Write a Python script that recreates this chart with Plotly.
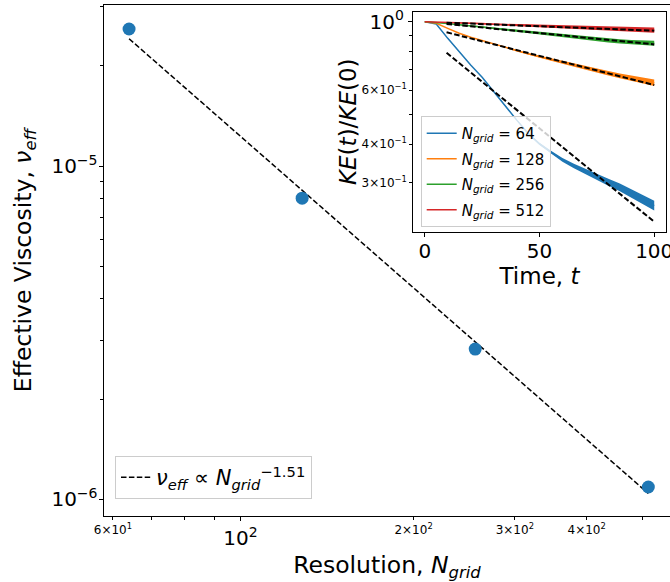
import numpy as np
import plotly.graph_objects as go

# ---------------- data: main panel ----------------
N_grid = [64, 128, 256, 512]
nu_eff = [2.575e-5, 8.01e-6, 2.826e-6, 1.09e-6]
fit_coef = 0.012853
fit_exp = -1.51

# ---------------- data: inset (KE decay) ----------------
time = [0, 5, 10, 15, 20, 25, 30, 35, 40, 45, 50, 55, 60, 65, 70, 75, 80, 85, 90, 95, 100]
ke_64 = [1.0, 0.983, 0.883, 0.799, 0.723, 0.660, 0.593, 0.534, 0.480, 0.434, 0.401,
         0.377, 0.356, 0.340, 0.326, 0.313, 0.301, 0.290, 0.277, 0.265, 0.253]
ke_128 = [1.0, 0.988, 0.951, 0.917, 0.890, 0.868, 0.846, 0.825, 0.805, 0.787, 0.770,
          0.754, 0.738, 0.722, 0.707, 0.693, 0.680, 0.667, 0.655, 0.644, 0.634]
ke_256 = [1.0, 0.995, 0.987, 0.978, 0.970, 0.961, 0.952, 0.944, 0.935, 0.926, 0.918,
          0.910, 0.901, 0.893, 0.885, 0.877, 0.869, 0.863, 0.858, 0.854, 0.851]
ke_512 = [1.0, 0.998, 0.995, 0.992, 0.989, 0.986, 0.982, 0.979, 0.975, 0.972, 0.969,
          0.966, 0.963, 0.960, 0.957, 0.954, 0.951, 0.948, 0.945, 0.942, 0.939]
# relative half-width of the spread band around each curve
spread_64 = [0, 0, 0, 0, 0, 0, 0, 0.002, 0.004, 0.006, 0.008, 0.011, 0.014, 0.017,
             0.020, 0.023, 0.026, 0.029, 0.032, 0.035, 0.037]
spread_128 = [0, 0, 0, 0, 0, 0, 0.002, 0.003, 0.005, 0.006, 0.008, 0.009, 0.011, 0.012,
              0.014, 0.015, 0.017, 0.018, 0.020, 0.022, 0.024]
spread_256 = [0, 0, 0.001, 0.002, 0.003, 0.004, 0.005, 0.006, 0.007, 0.008, 0.009, 0.010,
              0.011, 0.012, 0.013, 0.014, 0.015, 0.016, 0.017, 0.018, 0.019]
spread_512 = [0, 0, 0.001, 0.002, 0.003, 0.004, 0.005, 0.006, 0.007, 0.008, 0.009, 0.010,
              0.011, 0.012, 0.013, 0.014, 0.015, 0.016, 0.017, 0.018, 0.019]
# exponential fits  KE = A * exp(-rate * t), fitted for t >= 9.5
fit_amp = [0.905, 0.963, 0.9988, 0.9988]
fit_rate = [0.01396, 0.004356, 0.001685, 0.000661]
fit_t = [9.5, 100]

series_labels = ["64", "128", "256", "512"]
colors = ["#1f77b4", "#ff7f0e", "#2ca02c", "#d62728"]

# tick labels
main_x_major = [100]
main_x_major_text = ["10<sup>2</sup>"]
main_x_minor_lab = [60, 200, 300, 400]
main_x_minor_lab_text = ["6×10<sup>1</sup>", "2×10<sup>2</sup>", "3×10<sup>2</sup>", "4×10<sup>2</sup>"]
main_x_minor = [70, 80, 90, 500]
main_y_major = [1e-6, 1e-5]
main_y_major_text = ["10<sup>−6</sup>", "10<sup>−5</sup>"]
main_y_minor = [2e-6, 3e-6, 4e-6, 5e-6, 6e-6, 7e-6, 8e-6, 9e-6, 2e-5, 3e-5]
inset_x_ticks = [0, 50, 100]
inset_y_major = [1.0]
inset_y_major_text = ["10<sup>0</sup>"]
inset_y_minor_lab = [0.3, 0.4, 0.6]
inset_y_minor_lab_text = ["3×10<sup>−1</sup>", "4×10<sup>−1</sup>", "6×10<sup>−1</sup>"]
inset_y_minor = [0.5, 0.7, 0.8, 0.9]

FONT = "DejaVu Sans"
W, H = 670, 582

fig = go.Figure()

# ---------- main panel ----------
Nf = np.array([N_grid[0], N_grid[-1]], dtype=float)
fig.add_trace(go.Scatter(
    x=Nf, y=fit_coef * Nf ** fit_exp, mode="lines",
    line=dict(color="black", width=1.5, dash="5.5px,2.4px"),
    name="<i>ν<sub>eff</sub></i> ∝ <i>N</i><sub><i>grid</i></sub><sup>−1.51</sup>",
    legend="legend", xaxis="x", yaxis="y"))
fig.add_trace(go.Scatter(
    x=N_grid, y=nu_eff, mode="markers",
    marker=dict(color="#1f77b4", size=13), showlegend=False,
    xaxis="x", yaxis="y"))
# carrier (invisible) so the secondary small-label axis is drawn
fig.add_trace(go.Scatter(
    x=N_grid, y=nu_eff, mode="none", showlegend=False, hoverinfo="skip",
    xaxis="x3", yaxis="y"))

# ---------- inset ----------
t = np.array(time, dtype=float)
kes = [ke_64, ke_128, ke_256, ke_512]
spreads = [spread_64, spread_128, spread_256, spread_512]
for ke, sp, lab, c in zip(kes, spreads, series_labels, colors):
    ke = np.array(ke)
    sp = np.array(sp)
    up = ke * (1 + sp)
    lo = ke * (1 - sp)
    fig.add_trace(go.Scatter(
        x=np.concatenate([t, t[::-1]]), y=np.concatenate([up, lo[::-1]]),
        fill="toself", fillcolor=c, line=dict(width=0), mode="lines",
        showlegend=False, hoverinfo="skip", xaxis="x2", yaxis="y2"))
    fig.add_trace(go.Scatter(
        x=t, y=ke, mode="lines", line=dict(color=c, width=1.5),
        name=f"<i>N<sub>grid</sub></i> = {lab}", legend="legend2",
        legendgroup="g" + lab, xaxis="x2", yaxis="y2"))

tf = np.array(fit_t)
for A, r in zip(fit_amp, fit_rate):
    fig.add_trace(go.Scatter(
        x=tf, y=A * np.exp(-r * tf), mode="lines",
        line=dict(color="black", width=2, dash="5.5px,2.4px"),
        showlegend=False, xaxis="x2", yaxis="y2"))
fig.add_trace(go.Scatter(
    x=t, y=ke_64, mode="none", showlegend=False, hoverinfo="skip",
    xaxis="x2", yaxis="y3"))

base = dict(ticks="outside", tickcolor="black", tickwidth=1, showgrid=False,
            zeroline=False, automargin=False, ticklabeloverflow="allow")
big = dict(family=FONT, size=20, color="black")
smallf = dict(family=FONT, size=12, color="black")
minor = dict(ticks="outside", ticklen=3, tickcolor="black", showgrid=False)

MX = [104 / W, 1.0]
MY = [1 - 515.7 / H, 1 - 5 / H]
IX = [413.3 / W, 665.7 / W]
IY = [1 - 231.7 / H, 1 - 11.7 / H]
MXR = [1.7626, 2.7470]
MYR = [-6.0486, -4.5172]
IXR = [-5, 105]
IYR = [-0.6818, 0.03247]

fig.update_layout(
    width=W, height=H,
    margin=dict(l=0, r=0, t=0, b=0, autoexpand=False),
    paper_bgcolor="white", plot_bgcolor="white",
    font=dict(family=FONT, color="black"),
    xaxis=dict(
        type="log", domain=MX, range=MXR, anchor="y",
        showline=True, linecolor="black", linewidth=1, mirror=True, ticklen=4.5,
        tickvals=main_x_major, ticktext=main_x_major_text, tickfont=big,
        minor=dict(tickvals=main_x_minor, **minor),
        title=dict(text="Resolution, <i>N<sub>grid</sub></i>",
                   font=dict(family=FONT, size=23.5), standoff=8),
        **base),
    xaxis3=dict(
        type="log", range=MXR, overlaying="x", anchor="y", side="bottom",
        showline=False, ticklen=3, tickvals=main_x_minor_lab,
        ticktext=main_x_minor_lab_text, tickfont=smallf, **base),
    yaxis=dict(
        type="log", domain=MY, range=MYR, anchor="x",
        showline=True, linecolor="black", linewidth=1, mirror=False, ticklen=4.5,
        tickvals=main_y_major, ticktext=main_y_major_text, tickfont=big,
        ticklabelstandoff=-3,
        minor=dict(tickvals=main_y_minor, **minor),
        title=dict(text="Effective Viscosity, <i>ν<sub>eff</sub></i>",
                   font=dict(family=FONT, size=23.5), standoff=13),
        **base),
    xaxis2=dict(
        domain=IX, range=IXR, anchor="y2",
        showline=True, linecolor="black", linewidth=1, mirror=True, ticklen=4.5,
        tickvals=inset_x_ticks, tickfont=big, ticklabelstandoff=-3,
        title=dict(text="Time, <i>t</i>", font=dict(family=FONT, size=23), standoff=0),
        **base),
    yaxis2=dict(
        type="log", domain=IY, range=IYR, anchor="x2",
        showline=True, linecolor="black", linewidth=1, mirror=True, ticklen=4.5,
        tickvals=inset_y_major, ticktext=inset_y_major_text, tickfont=big,
        minor=dict(tickvals=inset_y_minor, **minor),
        title=dict(text="<i>KE</i>(<i>t</i>)/<i>KE</i>(0)",
                   font=dict(family=FONT, size=23), standoff=6),
        **base),
    yaxis3=dict(
        type="log", range=IYR, overlaying="y2", anchor="x2", side="left",
        showline=False, ticklen=3, tickvals=inset_y_minor_lab,
        ticktext=inset_y_minor_lab_text, tickfont=smallf, **base),
    legend=dict(
        x=115 / W, y=1 - 456 / H, xanchor="left", yanchor="top",
        bgcolor="rgba(255,255,255,0.8)", bordercolor="#cccccc", borderwidth=1,
        font=dict(family=FONT, size=21, color="black")),
    legend2=dict(
        x=420.7 / W, y=1 - 116 / H, xanchor="left", yanchor="top",
        bgcolor="rgba(255,255,255,0.8)", bordercolor="#cccccc", borderwidth=1,
        font=dict(family=FONT, size=15, color="black"), tracegroupgap=3),
    showlegend=True,
)

fig.write_html("out.html", config={"displayModeBar": False},
               post_script="document.body.style.margin='0';document.body.style.overflow='hidden';")
